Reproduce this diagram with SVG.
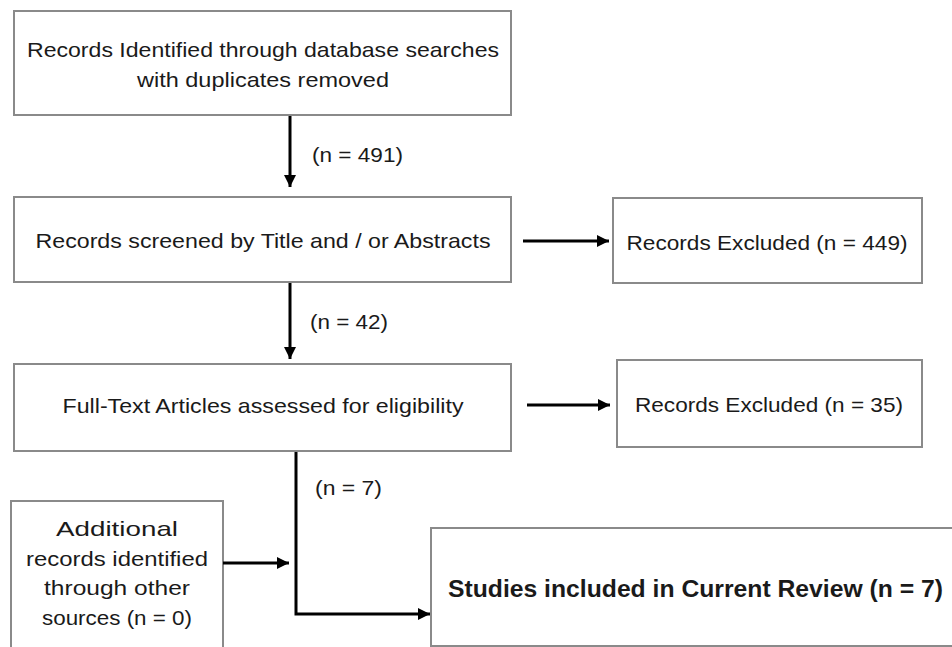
<svg xmlns="http://www.w3.org/2000/svg" width="952" height="647" viewBox="0 0 952 647">
<style>
.box{fill:#fff;stroke:#8a8a8a;stroke-width:2}
.t{font-family:"Liberation Sans",Arial,sans-serif;font-size:21px;fill:#1a1a1a}
.b{font-weight:bold;font-size:24px}
.c{stroke:#000;stroke-width:3;fill:none}
</style>
<defs>
<marker id="ah" markerUnits="userSpaceOnUse" markerWidth="14" markerHeight="12" refX="12" refY="6" orient="auto">
<path d="M0,0 L12,6 L0,12 Z" fill="#000"/>
</marker>
</defs>
<rect width="952" height="647" fill="#fff"/>
<g id="n1">
<rect class="box" x="14" y="11" width="497" height="104"/>
<text class="t" x="263" y="57" text-anchor="middle" textLength="472" lengthAdjust="spacingAndGlyphs">Records Identified through database searches</text>
<text class="t" x="263" y="87" text-anchor="middle" textLength="252" lengthAdjust="spacingAndGlyphs">with duplicates removed</text>
</g>
<g id="n2">
<rect class="box" x="14" y="197" width="497" height="85"/>
<text class="t" x="263" y="248" text-anchor="middle" textLength="455" lengthAdjust="spacingAndGlyphs">Records screened by Title and / or Abstracts</text>
</g>
<g id="n3">
<rect class="box" x="613" y="198" width="309" height="85"/>
<text class="t" x="767" y="250" text-anchor="middle" textLength="281" lengthAdjust="spacingAndGlyphs">Records Excluded (n = 449)</text>
</g>
<g id="n4">
<rect class="box" x="14" y="364" width="497" height="87"/>
<text class="t" x="263" y="413" text-anchor="middle" textLength="401" lengthAdjust="spacingAndGlyphs">Full-Text Articles assessed for eligibility</text>
</g>
<g id="n5">
<rect class="box" x="617" y="360" width="305" height="87"/>
<text class="t" x="769" y="412" text-anchor="middle" textLength="268" lengthAdjust="spacingAndGlyphs">Records Excluded (n = 35)</text>
</g>
<g id="n6">
<rect class="box" x="11" y="501" width="212" height="150"/>
<text class="t" x="117" y="536" text-anchor="middle" textLength="122" lengthAdjust="spacingAndGlyphs">Additional</text>
<text class="t" x="117" y="566" text-anchor="middle" textLength="182" lengthAdjust="spacingAndGlyphs">records identified</text>
<text class="t" x="117" y="595" text-anchor="middle" textLength="146" lengthAdjust="spacingAndGlyphs">through other</text>
<text class="t" x="117" y="625" text-anchor="middle" textLength="150" lengthAdjust="spacingAndGlyphs">sources (n = 0)</text>
</g>
<g id="n7">
<rect class="box" x="431" y="528" width="530" height="118"/>
<text class="t b" x="448" y="597" textLength="495" lengthAdjust="spacingAndGlyphs">Studies included in Current Review (n = 7)</text>
</g>
<g id="connectors">
<line class="c" x1="290" y1="116" x2="290" y2="187" marker-end="url(#ah)"/>
<text class="t" x="312" y="162" textLength="91" lengthAdjust="spacingAndGlyphs">(n = 491)</text>
<line class="c" x1="290" y1="283" x2="290" y2="359" marker-end="url(#ah)"/>
<text class="t" x="310" y="329" textLength="78" lengthAdjust="spacingAndGlyphs">(n = 42)</text>
<line class="c" x1="523" y1="241" x2="609" y2="241" marker-end="url(#ah)"/>
<line class="c" x1="527" y1="405" x2="610" y2="405" marker-end="url(#ah)"/>
<polyline class="c" points="296,452 296,614 430,614" marker-end="url(#ah)"/>
<text class="t" x="315" y="495" textLength="67" lengthAdjust="spacingAndGlyphs">(n = 7)</text>
<line class="c" x1="223" y1="563" x2="289" y2="563" marker-end="url(#ah)"/>
</g>
</svg>
